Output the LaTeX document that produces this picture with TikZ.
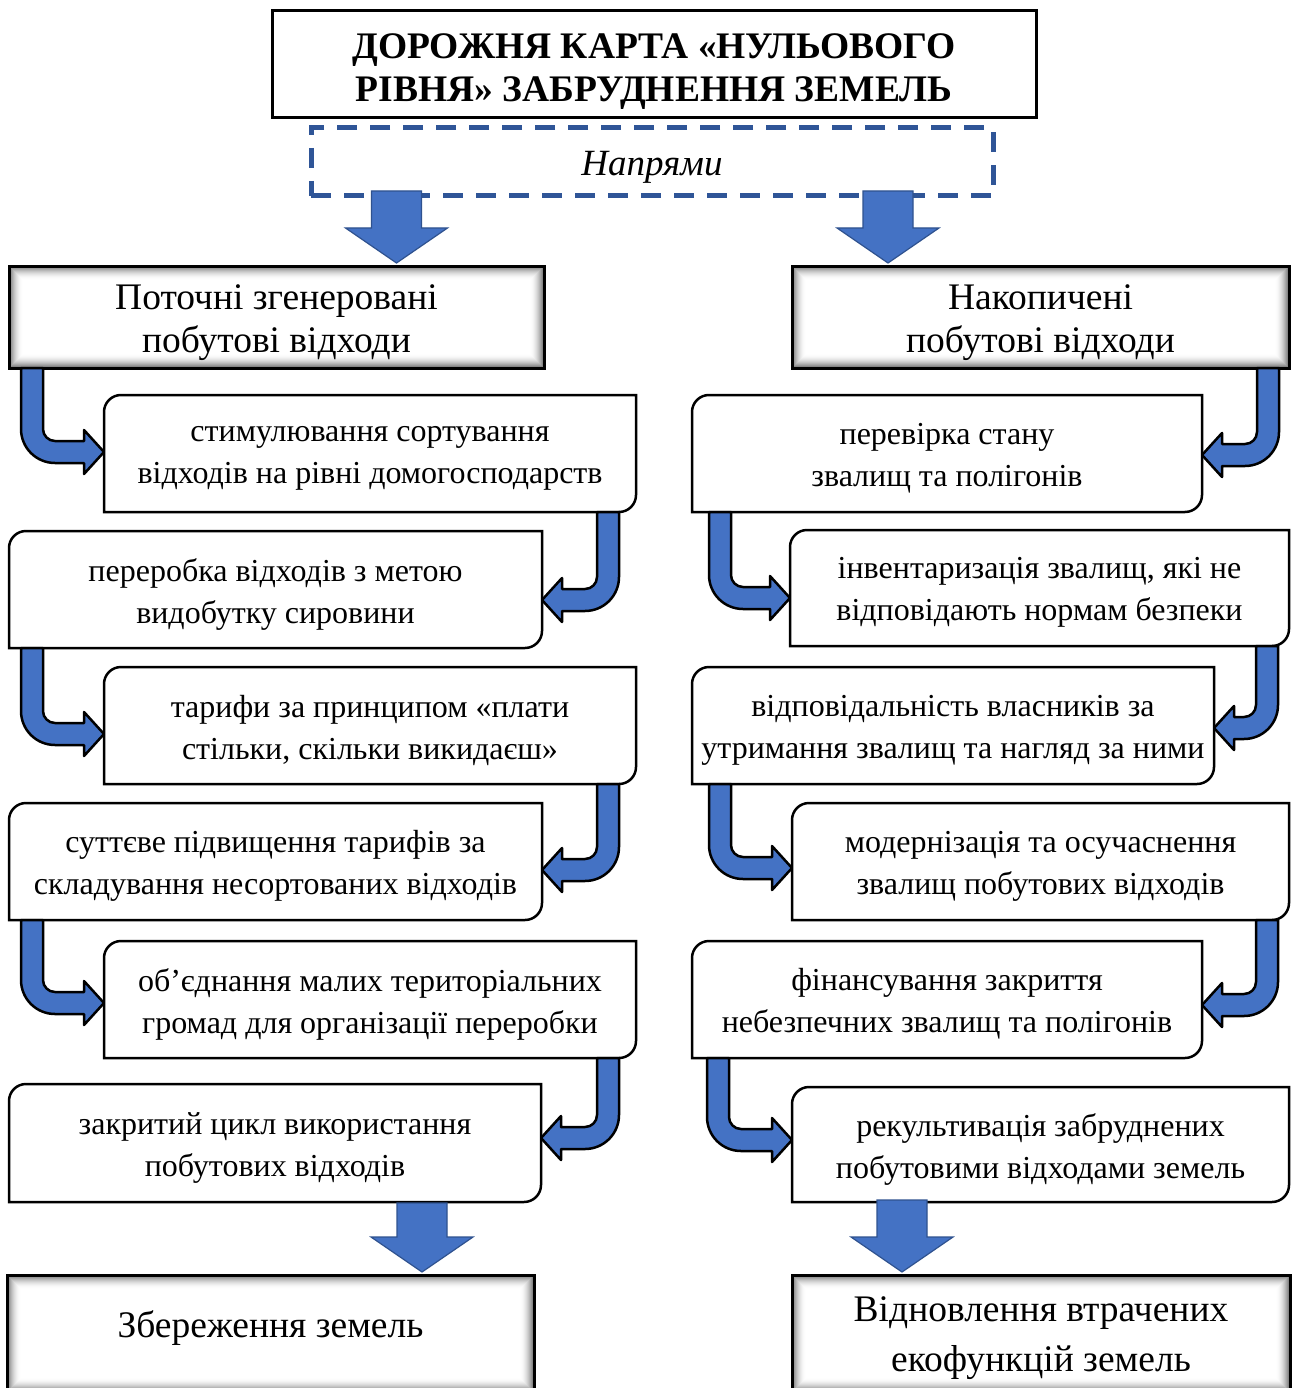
\documentclass[tikz,border=0pt]{standalone}
\usepackage{fontspec}
\setmainfont{Liberation Serif}
\usetikzlibrary{calc}
\definecolor{arrblue}{HTML}{4472C4}
\definecolor{arrdark}{HTML}{2F528F}
\definecolor{dashblue}{HTML}{2F5597}
\tikzset{
  stepbase/.style={inner sep=0pt, outer sep=0pt},
  stepnode/.style={inner sep=0pt, outer sep=0pt, align=center, font=\fontsize{32}{42}\selectfont},
  boxline/.style={draw=black, line width=2.5pt},
  hdrnode/.style={draw=black, line width=3pt, inner sep=0pt, outer sep=0pt,
    path picture={\foreach \i in {0,...,14}{\pgfmathsetmacro\c{55*(1-\i/14)^2}
      \fill[black!\c] ([shift={(\i pt,-\i pt)}]path picture bounding box.north west) rectangle ([shift={(-\i pt,\i pt)}]path picture bounding box.south east);}}},
  hdrtext/.style={inner sep=0pt, align=center, font=\fontsize{37.5}{43}\selectfont},
  restext/.style={inner sep=0pt, align=center, font=\fontsize{37.5}{50}\selectfont},
  titlenode/.style={draw=black, line width=3pt, inner sep=0pt, outer sep=0pt},
  titletext/.style={inner sep=0pt, align=center, font=\fontsize{37.5}{43}\selectfont\bfseries},
  dashbox/.style={draw=dashblue, line width=5pt, dash pattern=on 20pt off 13pt, inner sep=0pt, outer sep=0pt},
  dashtext/.style={inner sep=0pt, font=\fontsize{37}{43}\selectfont\itshape},
  bentarrow/.style={fill=arrblue, draw=black, line width=2.5pt, line join=round},
  blockarr/.style={fill=arrblue, draw=arrdark, line width=1.2pt, line join=miter},
}
\newcommand\stepbx[6]{%
  \node[stepbase, minimum width={(#4-#2)*1pt}, minimum height={(#5-#3)*1pt}] (#1) at ({(#2+#4)/2},{-(#3+#5)/2}) {};
  \draw[boxline] (#1.south west) -- ([yshift=-17pt]#1.north west) arc[start angle=180,end angle=90,radius=17pt]
    -- (#1.north east) -- ([yshift=17pt]#1.south east) arc[start angle=0,end angle=-90,radius=17pt] -- cycle;
  \node[stepnode] (#1-text) at ([yshift=-4.5pt]#1.center) {#6};}
\newcommand\bentR[4]{%
  \path[bentarrow] let \p1=(#1.south), \p2=(#3.west) in
   ({#2pt+11pt},\y1) -- ({#2pt+11pt},{-#4pt+23pt}) arc[start angle=180,end angle=270,radius=12pt]
   -- ({\x2-20pt},{-#4pt+11pt}) -- ({\x2-20pt},{-#4pt+22pt}) -- (\x2,{-#4pt}) -- ({\x2-20pt},{-#4pt-22pt})
   -- ({\x2-20pt},{-#4pt-11pt}) -- ({#2pt+23pt},{-#4pt-11pt}) arc[start angle=270,end angle=180,radius=34pt]
   -- ({#2pt-11pt},\y1) -- cycle;}
\newcommand\bentL[4]{%
  \path[bentarrow] let \p1=(#1.south), \p2=(#3.east) in
   ({#2pt-11pt},\y1) -- ({#2pt-11pt},{-#4pt+23pt}) arc[start angle=0,end angle=-90,radius=12pt]
   -- ({\x2+20pt},{-#4pt+11pt}) -- ({\x2+20pt},{-#4pt+22pt}) -- (\x2,{-#4pt}) -- ({\x2+20pt},{-#4pt-22pt})
   -- ({\x2+20pt},{-#4pt-11pt}) -- ({#2pt-23pt},{-#4pt-11pt}) arc[start angle=-90,end angle=0,radius=34pt]
   -- ({#2pt+11pt},\y1) -- cycle;}
\newcommand\blockarrow[4]{%
  \path[blockarr] let \p1=(#1.south), \p2=(#3.north) in
   ({#2pt-25pt},{\y1+#4pt}) -- ({#2pt+25pt},{\y1+#4pt}) -- ({#2pt+25pt},{\y2+38pt}) -- ({#2pt+51pt},{\y2+38pt})
   -- (#2pt,{\y2+3pt}) -- ({#2pt-51pt},{\y2+38pt}) -- ({#2pt-25pt},{\y2+38pt}) -- cycle;}
\begin{document}
\begin{tikzpicture}[x=1pt,y=1pt]
\useasboundingbox (0,0) rectangle (1291,-1388);
\fill[white] (0,0) rectangle (1291,-1388);
% title
\node[titlenode, minimum width=764pt, minimum height=107pt] (title) at (654,-64.5) {};
\node[titletext] (title-text) at ([yshift=-7pt]title.center) {ДОРОЖНЯ КАРТА «НУЛЬОВОГО\\РІВНЯ» ЗАБРУДНЕННЯ ЗЕМЕЛЬ};
\node[dashbox, minimum width=682pt, minimum height=68pt] (dir) at (652,-162) {};
\node[dashtext] (dir-text) at ([yshift=-5pt]dir.center) {Напрями};
% headers
\node[hdrnode, minimum width=535pt, minimum height=102pt] (h1) at (276.5,-317) {};
\node[hdrtext] (h1-text) at ([yshift=-6pt]h1.center) {Поточні згенеровані\\побутові відходи};
\node[hdrnode, minimum width=497pt, minimum height=102pt] (h2) at (1040.5,-317) {};
\node[hdrtext] (h2-text) at ([yshift=-6pt]h2.center) {Накопичені\\побутові відходи};
% left column
\stepbx{l1}{104}{395}{636}{512}{стимулювання сортування\\відходів на рівні домогосподарств}
\stepbx{l2}{9}{531}{542}{648}{переробка відходів з метою\\видобутку сировини}
\stepbx{l3}{104}{667}{636}{784}{тарифи за принципом «плати\\стільки, скільки викидаєш»}
\stepbx{l4}{9}{803}{542}{920}{суттєве підвищення тарифів за\\складування несортованих відходів}
\stepbx{l5}{104}{941}{636}{1058}{об’єднання малих територіальних\\громад для організації переробки}
\stepbx{l6}{9}{1084}{541}{1202}{закритий цикл використання\\побутових відходів}
% right column
\stepbx{r1}{692}{395}{1202}{512}{перевірка стану\\звалищ та полігонів}
\stepbx{r2}{790}{530}{1289}{646}{інвентаризація звалищ, які не\\відповідають нормам безпеки}
\stepbx{r3}{692}{667}{1214}{784}{відповідальність власників за\\утримання звалищ та нагляд за ними}
\stepbx{r4}{792}{803}{1289}{920}{модернізація та осучаснення\\звалищ побутових відходів}
\stepbx{r5}{692}{941}{1202}{1058}{фінансування закриття\\небезпечних звалищ та полігонів}
\stepbx{r6}{792}{1087}{1289}{1202}{рекультивація забруднених\\побутовими відходами земель}
% bottom results
\node[hdrnode, minimum width=527pt, minimum height=117pt] (res1) at (270.5,-1333.5) {};
\node[restext] (res1-text) at ([yshift=5pt]res1.center) {Збереження земель};
\node[hdrnode, minimum width=498pt, minimum height=117pt] (res2) at (1041,-1333.5) {};
\node[restext] (res2-text) at ([yshift=-5pt]res2.center) {Відновлення втрачених\\екофункцій земель};
% block arrows
\blockarrow{dir}{396.5}{h1}{5}
\blockarrow{dir}{888}{h2}{5}
\blockarrow{l6}{422}{res1}{-1}
\blockarrow{r6}{902}{res2}{2}
% bent arrows left
\bentR{h1}{32}{l1}{452}
\bentL{l1}{608}{l2}{600}
\bentR{l2}{32}{l3}{734}
\bentL{l3}{608}{l4}{870}
\bentR{l4}{32}{l5}{1003}
\bentL{l5}{608}{l6}{1138}
% bent arrows right
\bentL{h2}{1268}{r1}{455}
\bentR{r1}{720}{r2}{598}
\bentL{r2}{1267}{r3}{728}
\bentR{r3}{720}{r4}{868}
\bentL{r4}{1267}{r5}{1005}
\bentR{r5}{718}{r6}{1140}
\end{tikzpicture}
\end{document}
